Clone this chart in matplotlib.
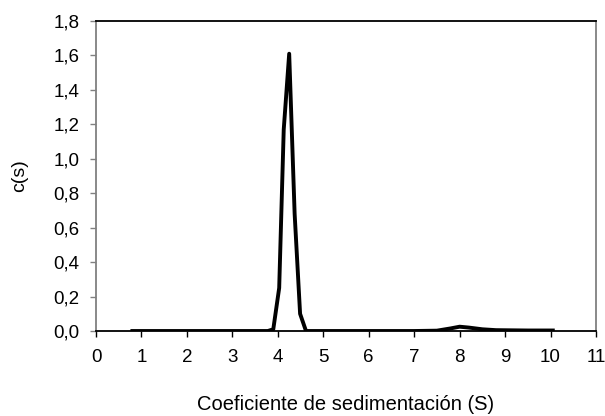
import matplotlib
matplotlib.use("Agg")
import matplotlib.pyplot as plt
from matplotlib.ticker import FuncFormatter

plt.rcParams["font.family"] = ["Liberation Sans", "DejaVu Sans"]

# sedimentation coefficient (S) and c(s)
sed_coef = [0.8, 1.5, 2.5, 3.5, 3.78, 3.9, 4.03, 4.13, 4.25, 4.37, 4.49, 4.62,
            5.0, 6.0, 7.0, 7.5, 7.8, 8.0, 8.2, 8.5, 8.8, 9.5, 10.05]
c_s = [0.0, 0.0, 0.0, 0.0, 0.0, 0.01, 0.25, 1.17, 1.61, 0.68, 0.1, 0.0,
       0.0, 0.0, 0.0, 0.002, 0.015, 0.025, 0.02, 0.01, 0.005, 0.003, 0.003]

x_ticks = list(range(0, 12))
y_ticks = [0.0, 0.2, 0.4, 0.6, 0.8, 1.0, 1.2, 1.4, 1.6, 1.8]

fig = plt.figure(figsize=(6.05, 4.16), dpi=100)
ax = fig.add_axes([0.1587, 0.2043, 0.8264, 0.7452])

ax.plot(sed_coef, c_s, color="black", linewidth=2.8)

ax.set_xlim(0, 11)
ax.set_ylim(0, 1.8)
ax.set_xticks(x_ticks)
ax.set_yticks(y_ticks)
ax.yaxis.set_major_formatter(FuncFormatter(lambda v, p: f"{v:.1f}".replace(".", ",")))

ax.tick_params(direction="out", length=4, width=1, labelsize=13.5, colors="black")
ax.tick_params(axis="y", color="#808080", pad=8)
ax.tick_params(axis="x", pad=9)

ax.spines["left"].set_color("#808080")
ax.spines["right"].set_color("#808080")
ax.spines["top"].set_color("black")
ax.spines["bottom"].set_color("black")
for s in ax.spines.values():
    s.set_linewidth(1.3)

ax.set_xlabel("Coeficiente de sedimentación (S)", fontsize=14.5, labelpad=21)
ax.set_ylabel("c(s)", fontsize=14, labelpad=18)

fig.savefig("out.png", dpi=100)
